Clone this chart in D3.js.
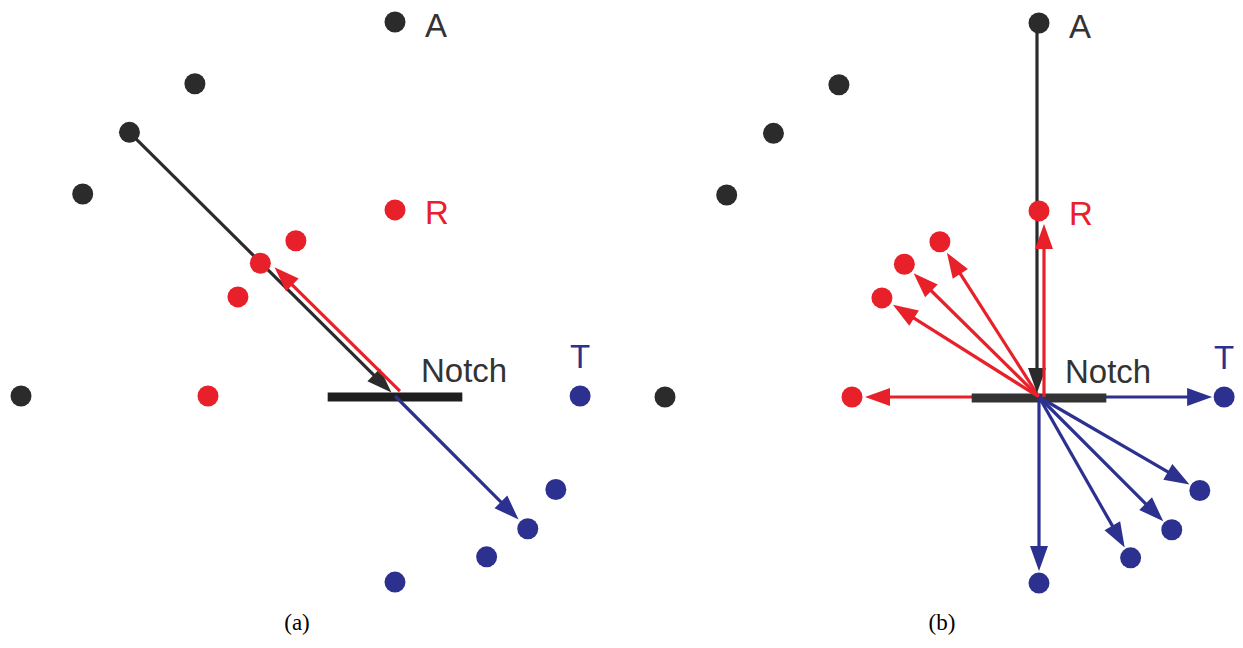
<!DOCTYPE html>
<html>
<head>
<meta charset="utf-8">
<script src="https://cdn.jsdelivr.net/npm/d3@7"></script>
<style>
  html, body { margin: 0; padding: 0; background: #fff; }
  svg { display: block; }
</style>
</head>
<body>
<div id="chart"></div>
<script>
// point sets, in units of the R-ring radius, notch at (0,0)
const blackPts = [[0, 2.0], [-1.07, 1.67], [-1.42, 1.41], [-1.67, 1.08], [-2.0, 0]];
const redPts = [[0, 0.995], [-0.53, 0.83], [-0.72, 0.71], [-0.84, 0.53], [-1.0, 0]];
const bluePts = [[0.99, 0], [0.86, -0.5], [0.71, -0.71], [0.49, -0.86], [0, -0.995]];
const ringLabels = ["A", "R", "T"];
const notchLabel = "Notch";
const panelLabels = ["(a)", "(b)"];

const width = 1243, height = 648;
const unit = 187;
const colors = { black: "#2b2b2b", red: "#e8202a", blue: "#2c3190" };
const sets = { black: blackPts, red: redPts, blue: bluePts };

const svg = d3.select("#chart").append("svg")
    .attr("width", width)
    .attr("height", height);

function arrow(g, p1, p2, color, opts) {
    opts = opts || {};
    let [x1, y1] = p1, [x2, y2] = p2;
    const dx = x2 - x1, dy = y2 - y1;
    const len = Math.sqrt(dx * dx + dy * dy);
    const ux = dx / len, uy = dy / len;
    const off = opts.offset || 0;
    // perpendicular offset
    x1 += -uy * off; y1 += ux * off;
    x2 += -uy * off; y2 += ux * off;
    const sh = opts.shorten || 0;
    x2 -= ux * sh; y2 -= uy * sh;
    const hl = 25, hw = 9;
    const bx = x2 - ux * hl, by = y2 - uy * hl;
    g.append("line")
        .attr("x1", x1).attr("y1", y1)
        .attr("x2", bx + ux * 2).attr("y2", by + uy * 2)
        .attr("stroke", color)
        .attr("stroke-width", 3.2);
    g.append("path")
        .attr("d", `M${x2},${y2}L${bx - uy * hw},${by + ux * hw}L${bx + uy * hw},${by - ux * hw}Z`)
        .attr("fill", color);
}

function panel(idx, cx, cy) {
    const x = d3.scaleLinear().domain([-1, 1]).range([cx - unit, cx + unit]);
    const y = d3.scaleLinear().domain([-1, 1]).range([cy + unit, cy - unit]);
    const g = svg.append("g");
    const P = d => [x(d[0]), y(d[1])];
    const origin = [x(0), y(0)];

    const first = g.append("g"), bar = g.append("g"), rest = g.append("g");

    // notch bar
    bar.append("line")
        .attr("x1", x(-0.36)).attr("x2", x(0.36))
        .attr("y1", y(0) + 1).attr("y2", y(0) + 1)
        .attr("stroke", idx === 0 ? "#1e1e1e" : "#333")
        .attr("stroke-width", 9);

    if (idx === 0) {
        arrow(rest, P(blackPts[2]), origin, colors.black, { shorten: 5 });
        arrow(rest, origin, P(redPts[2]), colors.red, { offset: 7, shorten: 13 });
        arrow(rest, origin, P(bluePts[2]), colors.blue, { shorten: 13 });
    } else {
        arrow(first, origin, P(redPts[4]), colors.red, { shorten: 13 });
        arrow(first, origin, P(bluePts[0]), colors.blue, { shorten: 12 });
        redPts.slice(1, 4).forEach(d => arrow(rest, origin, P(d), colors.red, { shorten: 13 }));
        arrow(rest, P(blackPts[0]), origin, colors.black, { offset: 2, shorten: 4 });
        arrow(rest, origin, P(redPts[0]), colors.red, { offset: 5, shorten: 13 });
        bluePts.slice(1).forEach(d => arrow(rest, origin, P(d), colors.blue, { shorten: 12 }));
    }

    // dots
    Object.keys(sets).forEach(k => {
        rest.selectAll(null).data(sets[k]).enter().append("circle")
            .attr("cx", d => x(d[0]))
            .attr("cy", d => y(d[1]))
            .attr("r", 10.5)
            .attr("fill", colors[k]);
    });

    // ring labels
    const font = "'Liberation Sans', Arial, sans-serif";
    rest.append("text").attr("x", x(blackPts[0][0]) + 30).attr("y", y(blackPts[0][1]) + 15)
        .text(ringLabels[0]).attr("fill", "#333")
        .style("font-family", font).style("font-size", "33px");
    rest.append("text").attr("x", x(redPts[0][0]) + 30).attr("y", y(redPts[0][1]) + 14)
        .text(ringLabels[1]).attr("fill", colors.red)
        .style("font-family", font).style("font-size", "33px");
    rest.append("text").attr("x", x(bluePts[0][0])).attr("y", y(bluePts[0][1]) - 28)
        .attr("text-anchor", "middle")
        .text(ringLabels[2]).attr("fill", colors.blue)
        .style("font-family", font).style("font-size", "33px");
    rest.append("text").attr("x", x(0) + 26).attr("y", y(0) - 14)
        .text(notchLabel).attr("fill", "#333")
        .style("font-family", font).style("font-size", "33px");

    // panel label
    g.append("text")
        .attr("x", idx === 0 ? 297 : 942)
        .attr("y", 630)
        .attr("text-anchor", "middle")
        .text(panelLabels[idx])
        .style("font-family", "'Liberation Serif', 'Times New Roman', serif")
        .style("font-size", "23px");
}

panel(0, 395, 396);
panel(1, 1039, 397);
</script>
</body>
</html>
